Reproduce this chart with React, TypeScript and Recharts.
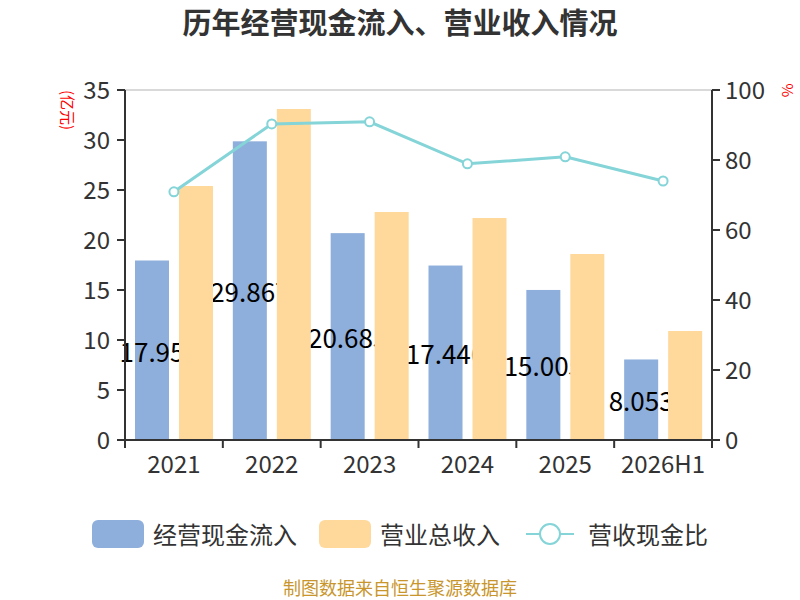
import React from 'react';
import { ComposedChart, Bar, Line, XAxis, YAxis, CartesianGrid } from 'recharts';

const years = ['2021', '2022', '2023', '2024', '2025', '2026H1'];
const cashInflow = [17.95, 29.867, 20.685, 17.446, 15.005, 8.053];
const totalRevenue = [25.4, 33.1, 22.8, 22.2, 18.6, 10.9];
const cashRatio = [70.9, 90.3, 90.9, 78.9, 80.9, 74.0];
const leftTicks = [0, 5, 10, 15, 20, 25, 30, 35];
const rightTicks = [0, 20, 40, 60, 80, 100];

const FONT = '"Noto Sans CJK SC", "Noto Sans", sans-serif';
const BLUE = '#8eaedb';
const ORANGE = '#fed99b';
const TEAL = '#84d4d8';
const AXIS = '#333333';
const BAR_GAP = 10;

const chartData = years.map((year, i) => ({
  year,
  cash: cashInflow[i],
  revenue: totalRevenue[i],
  ratio: cashRatio[i],
}));

const PLOT_WIDTH = 587;

// blue bar with its value label; the label is cut where the orange bar starts
const CashBar = (props: any) => {
  const { x, y, width, height, payload } = props;
  const clipId = `cash-label-${Math.round(x)}`;
  return (
    <g>
      <defs>
        <clipPath id={clipId}>
          <rect x={x - 60} y={0} width={width + 60 + BAR_GAP} height={600} />
        </clipPath>
      </defs>
      <rect x={x} y={y} width={width} height={height} fill={BLUE} />
      <text
        x={x + width / 2}
        y={y + height / 2}
        textAnchor="middle"
        dominantBaseline="central"
        fontSize={26}
        fontFamily={FONT}
        fill="#000"
        clipPath={`url(#${clipId})`}
      >
        {String(payload.cash)}
      </text>
    </g>
  );
};

// category labels with tick marks on the category edges
const YearTick = (props: any) => {
  const { x, y, payload, index } = props;
  const step = PLOT_WIDTH / years.length;
  return (
    <g>
      <line x1={x - step / 2} y1={y - 8} x2={x - step / 2} y2={y} stroke={AXIS} strokeWidth={2} />
      {index === years.length - 1 && (
        <line x1={x + step / 2} y1={y - 8} x2={x + step / 2} y2={y} stroke={AXIS} strokeWidth={2} />
      )}
      <text x={x} y={y + 25} textAnchor="middle" fontSize={24} fontFamily={FONT} fill={AXIS}>
        {payload.value}
      </text>
    </g>
  );
};

const App: React.FC = () => {
  return (
    <div style={{ position: 'absolute', left: 0, top: 0, width: 800, height: 600, fontFamily: FONT }}>
      <div
        style={{
          position: 'absolute', top: 0, left: 0, width: 800, textAlign: 'center',
          fontSize: 29, fontWeight: 'bold', color: '#333',
        }}
      >
        历年经营现金流入、营业收入情况
      </div>

      <div
        style={{
          position: 'absolute', left: 43, top: 102, width: 50, lineHeight: '16px', whiteSpace: 'nowrap',
          transform: 'rotate(90deg)', transformOrigin: 'center', color: '#ff0000', fontSize: 15,
          textAlign: 'center',
        }}
      >
        (亿元)
      </div>
      <div
        style={{
          position: 'absolute', left: 782, top: 80, transform: 'rotate(90deg)',
          color: '#ff0000', fontSize: 15,
        }}
      >
        %
      </div>

      <ComposedChart
        width={800}
        height={600}
        data={chartData}
        margin={{ top: 90, right: 20, left: 20, bottom: 120 }}
        barGap={BAR_GAP}
        barCategoryGap={10}
      >
        <CartesianGrid vertical={false} stroke="#cccccc" strokeWidth={1.5} />
        <XAxis
          dataKey="year"
          height={40}
          axisLine={{ stroke: AXIS, strokeWidth: 2 }}
          tickLine={false}
          tick={<YearTick />}
          interval={0}
        />
        <YAxis
          yAxisId="left"
          width={105}
          domain={[0, 35]}
          ticks={leftTicks}
          axisLine={{ stroke: AXIS, strokeWidth: 2 }}
          tickLine={{ stroke: AXIS, strokeWidth: 2 }}
          tickSize={8}
          tickMargin={7}
          tick={{ fontSize: 24, fill: AXIS, fontFamily: FONT }}
        />
        <YAxis
          yAxisId="right"
          orientation="right"
          width={68}
          domain={[0, 100]}
          ticks={rightTicks}
          axisLine={{ stroke: AXIS, strokeWidth: 2 }}
          tickLine={{ stroke: AXIS, strokeWidth: 2 }}
          tickSize={8}
          tickMargin={5}
          tick={{ fontSize: 24, fill: AXIS, fontFamily: FONT }}
        />
        <Bar yAxisId="left" dataKey="cash" barSize={34} fill={BLUE} shape={<CashBar />} isAnimationActive={false} />
        <Bar yAxisId="left" dataKey="revenue" barSize={34} fill={ORANGE} isAnimationActive={false} />
        <Line
          yAxisId="right"
          dataKey="ratio"
          stroke={TEAL}
          strokeWidth={3}
          dot={{ r: 4.5, fill: '#fff', stroke: TEAL, strokeWidth: 2 }}
          isAnimationActive={false}
        />
      </ComposedChart>

      <div
        style={{
          position: 'absolute', top: 516, left: 0, width: 800, display: 'flex',
          justifyContent: 'center', alignItems: 'center', fontSize: 24, color: '#333',
        }}
      >
        <span style={{ display: 'inline-block', width: 52, height: 28, borderRadius: 6, background: BLUE, marginRight: 9 }} />
        <span style={{ marginRight: 22 }}>经营现金流入</span>
        <span style={{ display: 'inline-block', width: 52, height: 28, borderRadius: 6, background: ORANGE, marginRight: 9 }} />
        <span style={{ marginRight: 24 }}>营业总收入</span>
        <svg width={52} height={28} style={{ marginRight: 12 }}>
          <line x1={2} y1={14} x2={50} y2={14} stroke={TEAL} strokeWidth={2} />
          <circle cx={26} cy={14} r={10} fill="#fff" stroke={TEAL} strokeWidth={2} />
        </svg>
        <span>营收现金比</span>
      </div>

      <div
        style={{
          position: 'absolute', top: 578, left: 0, width: 800, textAlign: 'center',
          fontSize: 18, lineHeight: '18px', color: '#c8962c',
        }}
      >
        制图数据来自恒生聚源数据库
      </div>
    </div>
  );
};

export default App;
